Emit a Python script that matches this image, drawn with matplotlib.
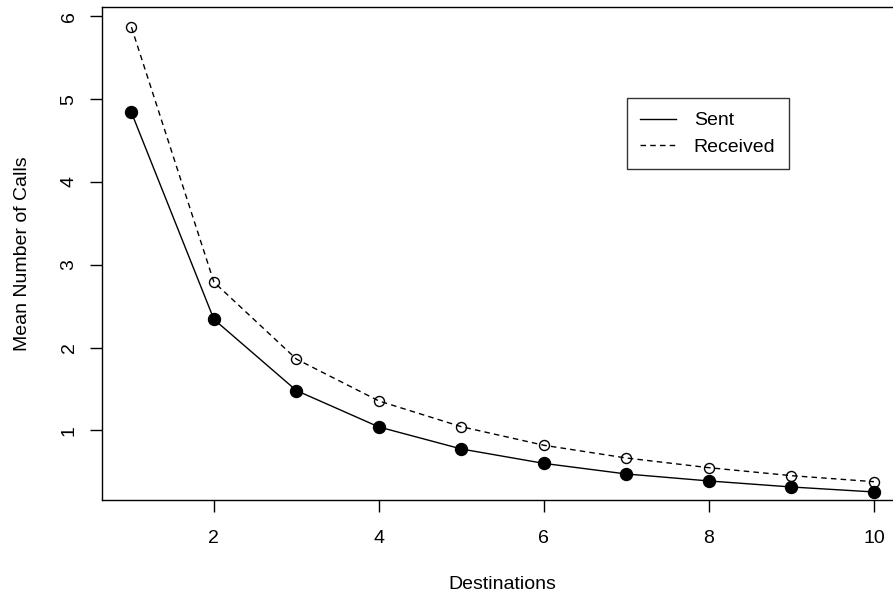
import matplotlib.pyplot as plt
import numpy as np

plt.rcParams['font.family'] = ['Liberation Sans', 'DejaVu Sans']

destinations = np.arange(1, 11)
sent = np.array([4.84, 2.34, 1.48, 1.04, 0.774, 0.60, 0.472, 0.388, 0.315, 0.255])
received = np.array([5.87, 2.79, 1.86, 1.354, 1.043, 0.819, 0.665, 0.548, 0.452, 0.379])

fig = plt.figure(figsize=(8.93, 5.96), dpi=100)
ax = fig.add_axes([0.1139, 0.1611, 0.898, 0.8267])

ax.plot(destinations, sent, color="black", lw=1.0, marker="o", ms=8.6,
        mfc="black", mec="black", label="Sent")
ax.plot(destinations, received, color="black", lw=1.0, linestyle=(0, (4, 3)),
        marker="o", ms=7.2, mfc="none", mec="black", mew=1.0, label="Received")

ax.set_xlim(0.64, 10.36)
ax.set_ylim(0.158, 6.11)
ax.set_xticks([2, 4, 6, 8, 10])
ax.set_yticks([1, 2, 3, 4, 5, 6])
ax.tick_params(axis="both", direction="out", length=8.4, width=1.0, labelsize=14)
ax.tick_params(axis="x", pad=13)
ax.tick_params(axis="y", pad=9)
for lab in ax.get_yticklabels():
    lab.set_rotation(90)
    lab.set_va("center")

for s in ax.spines.values():
    s.set_linewidth(1.0)

ax.set_xlabel("Destinations", fontsize=14, labelpad=21)
ax.set_ylabel("Mean Number of Calls", fontsize=14, labelpad=21)

leg = ax.legend(loc="upper left", bbox_to_anchor=(0.6547, 0.8153), borderaxespad=0,
                frameon=True, fancybox=False, edgecolor="black", fontsize=14,
                handlelength=1.85, borderpad=0.7, labelspacing=0.45,
                handletextpad=0.9)
leg.get_frame().set_linewidth(1.0)
for h in leg.legend_handles:
    h.set_marker("")

fig.savefig("out.png", dpi=100)
